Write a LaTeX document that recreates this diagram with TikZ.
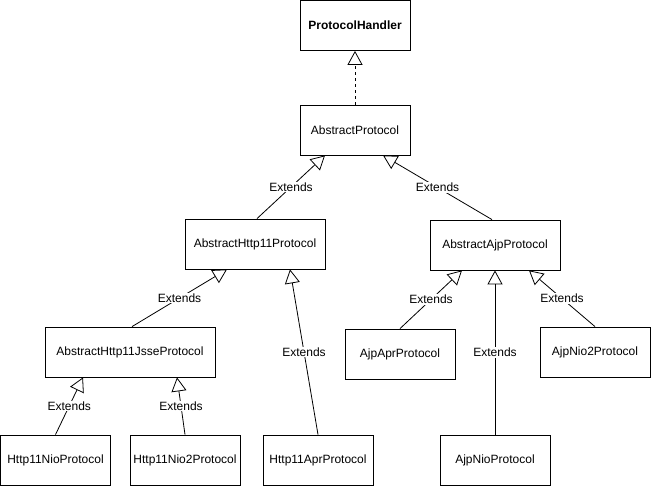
\documentclass[tikz,border=0pt]{standalone}
\usepackage{fontspec}
\setmainfont{Liberation Sans}
\usetikzlibrary{arrows.meta}

\begin{document}
\begin{tikzpicture}[x=1pt,y=-1pt,
  cls/.style={draw, line width=0.8pt, minimum width=110pt, minimum height=50pt, inner sep=0pt, font=\fontsize{12}{14}\selectfont},
  ext/.style={line width=0.8pt, -{Triangle[open,length=14pt,width=15pt]}},
  lbl/.style={fill=white, inner sep=1pt, font=\fontsize{12}{14}\selectfont}]
  \useasboundingbox (0,0) rectangle (651,486);
  % class boxes
  \node[cls] (ph) at (355,25.5) {\textbf{ProtocolHandler}};
  \node[cls] (ap) at (355,130) {AbstractProtocol};
  \node[cls, minimum width=140pt] (ah) at (255,244) {AbstractHttp11Protocol};
  \node[cls, minimum width=130pt] (aa) at (495,245) {AbstractAjpProtocol};
  \node[cls, minimum width=170pt] (aj) at (130,352) {AbstractHttp11JsseProtocol};
  \node[cls] (hn) at (55.5,460) {Http11NioProtocol};
  \node[cls] (h2) at (185,460) {Http11Nio2Protocol};
  \node[cls] (ha) at (318,460) {Http11AprProtocol};
  \node[cls] (jap) at (400,354) {AjpAprProtocol};
  \node[cls] (jn2) at (595,352) {AjpNio2Protocol};
  \node[cls] (jn) at (495,460) {AjpNioProtocol};
  % implements
  \draw[ext, dashed] (ap.north) -- (ph.south);
  % extends
  \draw[ext] ([xshift=2pt]ah.north) -- node[lbl] {Extends} ([xshift=-30pt]ap.south);
  \draw[ext] ([xshift=-3pt]aa.north) -- node[lbl] {Extends} ([xshift=28pt]ap.south);
  \draw[ext] ([xshift=2pt]aj.north) -- node[lbl] {Extends} ([xshift=-28pt]ah.south);
  \draw[ext] (ha.north) -- node[lbl] {Extends} ([xshift=35pt]ah.south);
  \draw[ext] (hn.north) -- node[lbl] {Extends} ([xshift=-47pt]aj.south);
  \draw[ext] (h2.north) -- node[lbl] {Extends} ([xshift=47pt]aj.south);
  \draw[ext] (jap.north) -- node[lbl] {Extends} ([xshift=-33pt]aa.south);
  \draw[ext] (jn.north) -- node[lbl] {Extends} (aa.south);
  \draw[ext] (jn2.north) -- node[lbl] {Extends} ([xshift=34pt]aa.south);
\end{tikzpicture}
\end{document}
